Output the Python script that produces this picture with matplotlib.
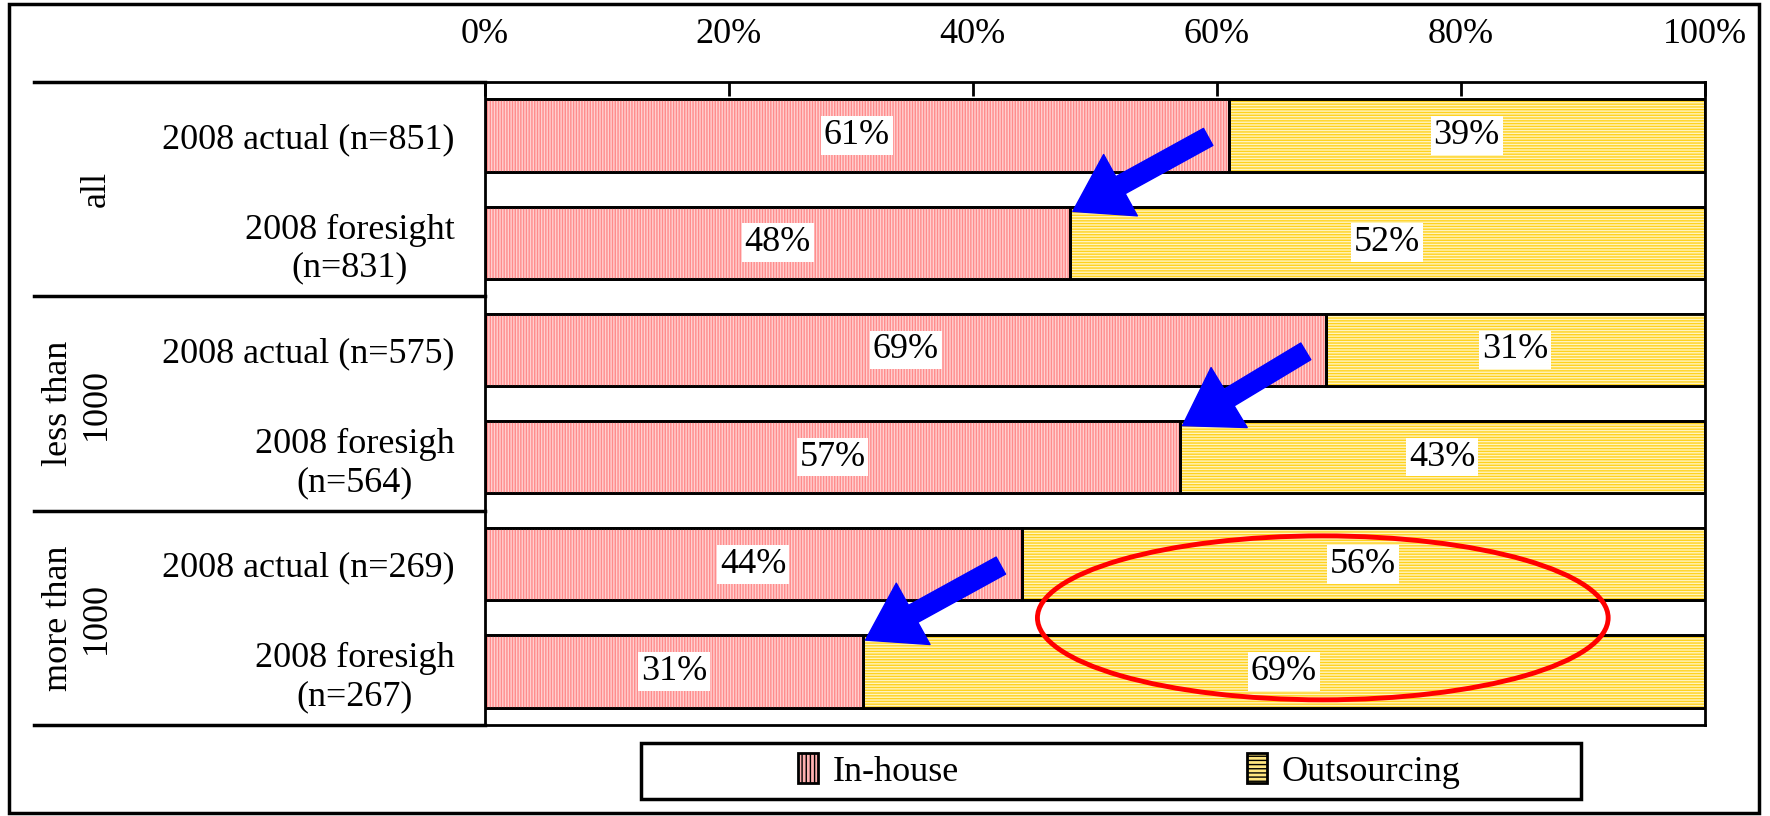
import numpy as np
import matplotlib
matplotlib.use("Agg")
import matplotlib.pyplot as plt
from matplotlib.patches import Ellipse, FancyArrowPatch, Rectangle, Patch

plt.rcParams['font.family'] = ['Liberation Serif', 'DejaVu Serif']
plt.rcParams['hatch.linewidth'] = 1.0

# data
categories = ["2008 actual (n=851)", "2008 foresight\n(n=831)",
              "2008 actual (n=575)", "2008 foresigh\n(n=564)",
              "2008 actual (n=269)", "2008 foresigh\n(n=267)"]
groups = ["all", "less than\n1000", "more than\n1000"]
inhouse = [61, 48, 69, 57, 44, 31]
outsourcing = [39, 52, 31, 43, 56, 69]
xticks = [0, 20, 40, 60, 80, 100]
xticklabels = ["0%", "20%", "40%", "60%", "80%", "100%"]

FS = 26
BAR_H = 0.675

fig = plt.figure(figsize=(17.7, 8.16), dpi=100)
ax = fig.add_axes([0.274, 0.1115, 0.689, 0.788])

y = np.arange(len(categories))
ih = np.array(inhouse) / 100
os_ = np.array(outsourcing) / 100

# base fills, hatch overlay, then outlines
ax.barh(y, ih, height=BAR_H, color='#ffd0d0', edgecolor='black', linewidth=2, zorder=2)
ax.barh(y, ih, height=BAR_H, color='none', edgecolor='#ff8c8c', hatch='||||||', linewidth=0, zorder=3)
ax.barh(y, os_, left=ih, height=BAR_H, color='#fff4c0', edgecolor='black', linewidth=2, zorder=2)
ax.barh(y, os_, left=ih, height=BAR_H, color='none', edgecolor='#ffd21e', hatch='------', linewidth=0, zorder=3)
ax.barh(y, ih, height=BAR_H, color='none', edgecolor='black', linewidth=2, zorder=4)
ax.barh(y, os_, left=ih, height=BAR_H, color='none', edgecolor='black', linewidth=2, zorder=4)

box = dict(facecolor='white', edgecolor='none', pad=2)
for i in range(len(categories)):
    ax.text(ih[i] / 2, y[i], f"{inhouse[i]}%", ha='center', va='center',
            fontsize=FS, bbox=box, zorder=6)
    ax.text(ih[i] + os_[i] / 2, y[i], f"{outsourcing[i]}%", ha='center', va='center',
            fontsize=FS, bbox=box, zorder=6)

ax.set_xlim(0, 1)
ax.set_ylim(len(categories) - 0.5, -0.5)
ax.xaxis.tick_top()
ax.set_xticks(np.array(xticks) / 100)
ax.set_xticklabels(xticklabels, fontsize=FS)
ax.tick_params(axis='x', direction='in', length=10, width=2, pad=22)
ax.set_yticks(y)
ax.set_yticklabels(categories, fontsize=FS, multialignment='center')
ax.tick_params(axis='y', length=0, pad=22)
for s in ax.spines.values():
    s.set_linewidth(2)
    s.set_zorder(5)

# group separators extend to the left
ytr = ax.get_yaxis_transform()
for yy in [-0.5, 1.5, 3.5, 5.5]:
    ax.plot([-0.37, 0], [yy, yy], color='black', lw=2.5, transform=ytr, clip_on=False)
for k, g in enumerate(groups):
    ax.text(-0.305, 2 * k + 0.5, g, rotation=90, ha='right', va='center',
            fontsize=FS, transform=ytr, multialignment='center')

# arrows between actual and foresight
for k in range(3):
    i = 2 * k
    arr = FancyArrowPatch((ih[i] - 0.015, i + 0.0), (ih[i + 1], i + 1 - 0.28),
                          arrowstyle='simple,head_length=1.4,head_width=1.8,tail_width=0.5',
                          mutation_scale=28, color='#0000ff', zorder=7)
    ax.add_patch(arr)

# red ellipse highlight
ax.add_patch(Ellipse((0.687, 4.5), 0.468, 1.53, fill=False, edgecolor='#ff0000',
                     lw=3.5, zorder=7))

# legend (frame drawn separately)
handles = [Patch(facecolor='#ffb0b0', edgecolor='black', hatch='||||', linewidth=2),
           Patch(facecolor='#ffe680', edgecolor='black', hatch='----', linewidth=2)]
leg = fig.legend(handles, ["In-house", "Outsourcing"], ncol=2, fontsize=FS,
                 loc='center', bbox_to_anchor=(0.638, 0.055), frameon=False,
                 handlelength=0.55, handleheight=0.9, handletextpad=0.4,
                 columnspacing=8.0, borderaxespad=0)
fig.patches.append(Rectangle((0.362, 0.021), 0.531, 0.068, transform=fig.transFigure,
                             fill=False, edgecolor='black', lw=2.5))

# outer frame
fig.patches.append(Rectangle((0.005, 0.004), 0.989, 0.991, transform=fig.transFigure,
                             fill=False, edgecolor='black', lw=2.5))

plt.savefig("out.png", dpi=100)
